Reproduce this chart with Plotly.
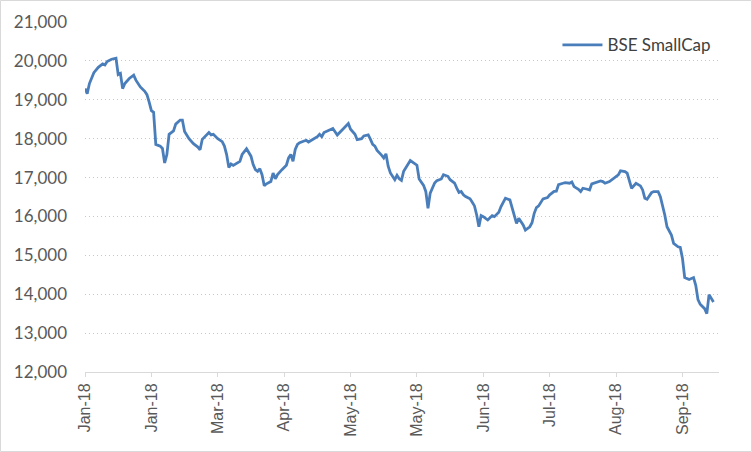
import plotly.graph_objects as go

dates = [
    "2018-01-01","2018-01-02","2018-01-03","2018-01-05","2018-01-07","2018-01-09","2018-01-10","2018-01-11",
    "2018-01-13","2018-01-15","2018-01-16","2018-01-17","2018-01-18","2018-01-19","2018-01-21","2018-01-23",
    "2018-01-24","2018-01-26","2018-01-28","2018-01-29","2018-01-30","2018-01-31","2018-02-01","2018-02-02",
    "2018-02-04","2018-02-05","2018-02-06","2018-02-07","2018-02-08","2018-02-10","2018-02-11","2018-02-13",
    "2018-02-14","2018-02-15","2018-02-17","2018-02-19","2018-02-21","2018-02-22","2018-02-23","2018-02-25",
    "2018-02-26","2018-02-27","2018-02-28","2018-03-02","2018-03-04","2018-03-05","2018-03-06","2018-03-07",
    "2018-03-08","2018-03-09","2018-03-11","2018-03-12","2018-03-13","2018-03-15","2018-03-17","2018-03-18",
    "2018-03-19","2018-03-20","2018-03-21","2018-03-22","2018-03-23","2018-03-24","2018-03-26","2018-03-27",
    "2018-03-28","2018-03-29","2018-03-31","2018-04-02","2018-04-03","2018-04-04","2018-04-05","2018-04-06",
    "2018-04-07","2018-04-08","2018-04-10","2018-04-11","2018-04-12","2018-04-14","2018-04-16","2018-04-17",
    "2018-04-18","2018-04-19","2018-04-21","2018-04-23","2018-04-25","2018-04-27","2018-04-30","2018-05-01",
    "2018-05-03","2018-05-04","2018-05-06","2018-05-07","2018-05-09","2018-05-10","2018-05-11","2018-05-12",
    "2018-05-13","2018-05-15","2018-05-16","2018-05-17","2018-05-18","2018-05-19","2018-05-21","2018-05-22",
    "2018-05-23","2018-05-24","2018-05-25","2018-05-28","2018-05-29","2018-05-31","2018-06-01","2018-06-03",
    "2018-06-04","2018-06-05","2018-06-06","2018-06-08","2018-06-09","2018-06-11","2018-06-12","2018-06-14",
    "2018-06-15","2018-06-17","2018-06-18","2018-06-19","2018-06-20","2018-06-21","2018-06-22","2018-06-24",
    "2018-06-25","2018-06-26","2018-06-27","2018-06-28","2018-06-29","2018-06-30","2018-07-02","2018-07-04",
    "2018-07-05","2018-07-07","2018-07-08","2018-07-10","2018-07-12","2018-07-13","2018-07-14","2018-07-15",
    "2018-07-16","2018-07-18","2018-07-19","2018-07-21","2018-07-22","2018-07-23","2018-07-24","2018-07-25",
    "2018-07-27","2018-07-29","2018-07-30","2018-08-01","2018-08-02","2018-08-03","2018-08-05","2018-08-06",
    "2018-08-08","2018-08-09","2018-08-10","2018-08-12","2018-08-13","2018-08-14","2018-08-16","2018-08-17",
    "2018-08-18","2018-08-20","2018-08-22","2018-08-23","2018-08-24","2018-08-26","2018-08-27","2018-08-29",
    "2018-08-30","2018-08-31","2018-09-02","2018-09-03","2018-09-04","2018-09-05","2018-09-07","2018-09-09",
    "2018-09-10","2018-09-11","2018-09-12","2018-09-14","2018-09-15","2018-09-17","2018-09-18","2018-09-19",
    "2018-09-20","2018-09-21","2018-09-23","2018-09-24","2018-09-26","2018-09-27","2018-09-28","2018-09-29",
    "2018-09-30","2018-10-01","2018-10-03","2018-10-04","2018-10-05","2018-10-06","2018-10-08","2018-10-09",
    "2018-10-10","2018-10-12",
]

bse_smallcap = [
    19287,19157,19417,19696,19835,19922,19896,19983,
    20043,20070,19650,19680,19287,19417,19548,19635,
    19504,19330,19217,19130,18939,18722,18678,17852,
    17809,17748,17374,17591,18113,18200,18374,18478,
    18478,18183,18000,17870,17783,17713,17983,18113,
    18157,18096,18113,18000,17922,17809,17591,17261,
    17348,17313,17377,17417,17593,17740,17550,17333,
    17203,17160,17229,17074,16788,16840,16900,17117,
    16970,17074,17203,17316,17506,17593,17420,17723,
    17853,17896,17939,17957,17913,17983,18052,18113,
    18052,18156,18199,18260,18095,18216,18390,18242,
    18113,17974,18000,18069,18095,17983,17853,17810,
    17697,17576,17506,17610,17290,17117,16944,17056,
    16970,16928,17162,17438,17395,17317,16963,16799,
    16643,16211,16600,16859,16920,16963,17075,17032,
    16946,16859,16729,16617,16643,16557,16513,16453,
    16367,16271,16038,15735,16021,15995,15908,16021,
    15995,16107,16254,16470,16427,16211,16038,15822,
    15952,15779,15649,15735,15839,16081,16228,16271,
    16453,16487,16557,16643,16650,16820,16854,16871,
    16854,16888,16768,16699,16639,16725,16699,16682,
    16837,16871,16914,16897,16854,16897,16940,17026,
    17069,17172,17155,17112,16897,16725,16854,16785,
    16682,16467,16441,16613,16639,16639,16510,16295,
    16037,15736,15521,15306,15220,15203,14919,14428,
    14403,14377,14428,14231,13862,13741,13629,13500,
    13990,13801,
]

tick_dates = ["2018-01-01","2018-01-31","2018-03-02","2018-04-01","2018-05-01",
              "2018-05-31","2018-06-30","2018-07-30","2018-08-29","2018-09-28"]
tick_labels = ["Jan-18","Jan-18","Mar-18","Apr-18","May-18",
               "May-18","Jun-18","Jul-18","Aug-18","Sep-18"]
y_ticks = [12000,13000,14000,15000,16000,17000,18000,19000,20000,21000]

W, H = 752, 452
L, R, T, B = 85, 33, 22, 80
pw, ph = W - L - R, H - T - B

fig = go.Figure()
fig.add_trace(go.Scatter(
    x=dates, y=bse_smallcap, mode="lines", name="BSE SmallCap",
    line=dict(color="#4A7EBB", width=2.8),
))

font_family = "Lato, 'Open Sans', sans-serif"
fig.update_layout(
    width=W, height=H,
    margin=dict(l=L, r=R, t=T, b=B),
    paper_bgcolor="white", plot_bgcolor="white",
    font=dict(family=font_family, size=17, color="#595959"),
    showlegend=True,
    legend=dict(x=0.996, y=0.985, xanchor="right", yanchor="top", bgcolor="rgba(0,0,0,0)",
                font=dict(size=17, color="#404040"), itemwidth=40),
    xaxis=dict(
        type="date", range=["2018-01-01", "2018-10-14 12:00"],
        tickmode="array", tickvals=tick_dates, ticktext=tick_labels,
        tickangle=-90, showgrid=False, showline=True, linecolor="#D9D9D9", linewidth=1,
        ticks="outside", ticklen=4, tickcolor="#D9D9D9", zeroline=False,
        tickfont=dict(family="'Liberation Sans', Arial, sans-serif", size=16, color="#595959"),
    ),
    yaxis=dict(
        range=[12000, 21000], tickmode="array", tickvals=y_ticks,
        tickformat=",d", showgrid=True, gridcolor="#C8C8C8", griddash="1px,3px", gridwidth=1,
        showline=False, zeroline=False, ticks="", ticklabelstandoff=17,
    ),
    shapes=[dict(
        type="rect", xref="paper", yref="paper",
        x0=(-L + 0.5) / pw, x1=1 + (R - 0.5) / pw,
        y0=(-B + 0.5) / ph, y1=1 + (T - 0.5) / ph,
        line=dict(color="#D9D9D9", width=1),
    )],
)

fig.write_html("out.html")
